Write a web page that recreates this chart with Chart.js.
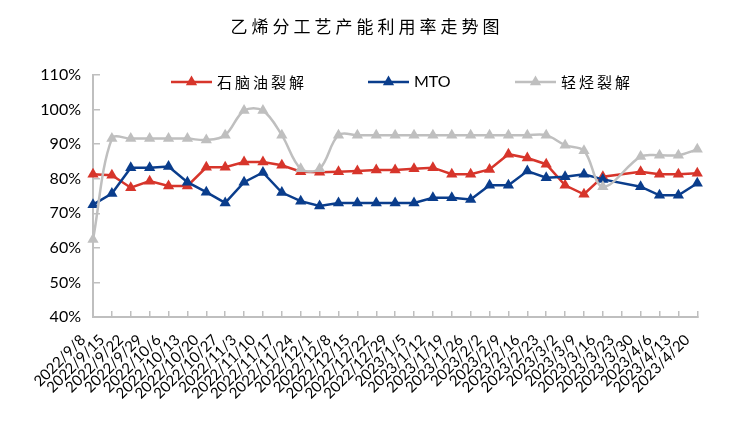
<!DOCTYPE html>
<html>
<head>
<meta charset="utf-8">
<script src="https://cdn.jsdelivr.net/npm/chart.js@4.4.1/dist/chart.umd.min.js"></script>
<style>
  html, body { margin: 0; padding: 0; background: #fff; }
  #chart { display: block; }
</style>
</head>
<body>
<canvas id="chart" width="730" height="426"></canvas>
<script>
// 周度日期
const weeks = ['2022/9/8', '2022/9/15', '2022/9/22', '2022/9/29', '2022/10/6', '2022/10/13',
  '2022/10/20', '2022/10/27', '2022/11/3', '2022/11/10', '2022/11/17', '2022/11/24',
  '2022/12/1', '2022/12/8', '2022/12/15', '2022/12/22', '2022/12/29', '2023/1/5',
  '2023/1/12', '2023/1/19', '2023/1/26', '2023/2/2', '2023/2/9', '2023/2/16',
  '2023/2/23', '2023/3/2', '2023/3/9', '2023/3/16', '2023/3/23', '2023/3/30',
  '2023/4/6', '2023/4/13', '2023/4/20'];

// 产能利用率 (%)
const naphtha = [81.3, 81.0, 77.4, 79.3, 77.9, 77.9, 83.3, 83.3, 84.8, 84.8, 83.9, 82.0,
  81.9, 82.0, 82.2, 82.5, 82.5, 82.9, 83.2, 81.3, 81.3, 82.7, 87.1, 86.0,
  84.2, 78.1, 75.5, 80.6, null, 82.0, 81.3, 81.3, 81.6];
const mto = [72.5, 75.7, 83.2, 83.2, 83.5, 79.0, 76.1, 73.0, 79.0, 81.8, 76.0, 73.5,
  72.1, 73.0, 73.0, 73.0, 73.0, 73.0, 74.5, 74.5, 74.0, 78.1, 78.1, 82.2,
  80.3, 80.6, 81.3, 79.8, null, 77.7, 75.2, 75.2, 78.7];
const lightHc = [62.4, 91.6, 91.6, 91.6, 91.6, 91.6, 91.2, 92.6, 99.7, 99.7, 92.6, 82.9,
  82.9, 92.6, 92.6, 92.6, 92.6, 92.6, 92.6, 92.6, 92.6, 92.6, 92.6, 92.6,
  92.6, 89.7, 88.1, 77.7, null, 86.4, 86.8, 86.8, 88.5];

const seriesNames = ['石脑油裂解', 'MTO', '轻烃裂解'];
const seriesColors = ['#d7352b', '#0a3d8c', '#bfbfbf'];
const chartTitle = '乙烯分工艺产能利用率走势图';

const AXIS_GREY = '#bfbfbf';

// 标题和图例（带线条的三角形）自己画，为了字间距
const headerPlugin = {
  id: 'header',
  afterDraw(chart) {
    const ctx = chart.ctx;
    ctx.save();
    ctx.fillStyle = '#000';
    ctx.textBaseline = 'middle';
    ctx.letterSpacing = '4px';
    ctx.font = '17px "Noto Sans CJK SC"';
    ctx.textAlign = 'center';
    ctx.fillText(chartTitle, 367, 27);

    const legendX = [171, 368, 515];
    const legendY = 82;
    seriesNames.forEach((name, i) => {
      const x0 = legendX[i];
      const col = seriesColors[i];
      ctx.strokeStyle = col;
      ctx.lineWidth = 2.5;
      ctx.beginPath();
      ctx.moveTo(x0, legendY);
      ctx.lineTo(x0 + 41, legendY);
      ctx.stroke();
      const cx = x0 + 20.5, r = 6.5;
      ctx.fillStyle = col;
      ctx.beginPath();
      ctx.moveTo(cx, legendY - r);
      ctx.lineTo(cx + r * 0.866, legendY + r / 2);
      ctx.lineTo(cx - r * 0.866, legendY + r / 2);
      ctx.closePath();
      ctx.fill();
      ctx.fillStyle = '#000';
      ctx.textAlign = 'left';
      if (name === 'MTO') {
        ctx.letterSpacing = '0px';
        ctx.font = '16px Lato';
      } else {
        ctx.letterSpacing = '3px';
        ctx.font = '15px "Noto Sans CJK SC"';
      }
      ctx.fillText(name, x0 + 46, legendY);
    });
    ctx.restore();
  }
};

const makeSet = (idx, data, tension) => ({
  label: seriesNames[idx],
  data: data,
  borderColor: seriesColors[idx],
  backgroundColor: seriesColors[idx],
  borderWidth: 2.5,
  pointStyle: 'triangle',
  pointRadius: 6.5,
  pointBorderWidth: 0,
  tension: tension,
  spanGaps: true
});

new Chart(document.getElementById('chart'), {
  type: 'line',
  data: {
    labels: weeks,
    // 第一个数据集画在最上面：灰线在上，红线在下
    datasets: [
      makeSet(2, lightHc, 0.35),
      makeSet(1, mto, 0),
      makeSet(0, naphtha, 0)
    ]
  },
  options: {
    responsive: false,
    animation: false,
    layout: { padding: { top: 75, right: 31, left: 0, bottom: 0 } },
    plugins: {
      legend: { display: false },
      title: { display: false },
      tooltip: { enabled: false }
    },
    scales: {
      x: {
        offset: false,
        grid: { display: true, drawOnChartArea: false, tickLength: -6, color: AXIS_GREY, lineWidth: 1.5 },
        border: { color: AXIS_GREY, width: 2 },
        ticks: {
          autoSkip: false, maxRotation: 45, minRotation: 45,
          color: '#000', padding: 20, labelOffset: -10,
          font: { family: 'Lato', size: 15 }
        },
        afterFit: s => { s.height = 109; }
      },
      y: {
        min: 40, max: 110,
        grid: { display: true, drawOnChartArea: false, tickLength: -7, color: AXIS_GREY, lineWidth: 1.5 },
        border: { color: AXIS_GREY, width: 2 },
        ticks: {
          stepSize: 10, color: '#000', padding: 19,
          font: { family: 'Lato', size: 16 },
          callback: v => v + '%'
        },
        afterFit: s => { s.width = 93; }
      }
    }
  },
  plugins: [headerPlugin]
});
</script>
</body>
</html>
